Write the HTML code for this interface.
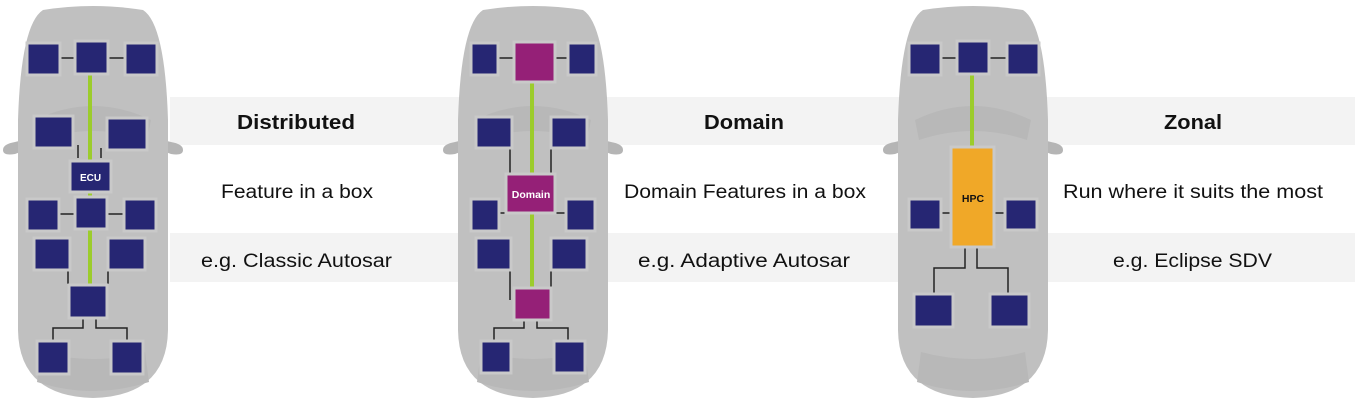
<!DOCTYPE html>
<html><head><meta charset="utf-8"><style>
html,body{margin:0;padding:0;background:#fff;}
svg{display:block;}
text{font-family:"Liberation Sans",sans-serif;}
</style></head><body>
<svg width="1363" height="403" viewBox="0 0 1363 403" xmlns="http://www.w3.org/2000/svg">
<defs>
<g id="car">
  <path d="M-90,150 q0,-6 12,-8 l16,-4 l0,10 l-16,6 q-12,2 -12,-4z" fill="#b5b5b5"/>
  <path d="M90,150 q0,-6 -12,-8 l-16,-4 l0,10 l16,6 q12,2 12,-4z" fill="#b5b5b5"/>
  <path d="M-50,10 Q0,2 50,10 Q72,24 75,120 L75,330 Q74,396 0,398 Q-74,396 -75,330 L-75,120 Q-72,24 -50,10Z" fill="#c0c0c0"/>
  <path d="M-58,120 q58,-28 116,0 l-4,20 q-54,-18 -108,0z" fill="#b8b8b8"/>
  <path d="M-52,352 q52,14 104,0 l4,30 q-56,18 -112,0z" fill="#b8b8b8"/>
</g>
</defs>
<rect x="170" y="97" width="1185" height="48" fill="#f3f3f3"/>
<rect x="170" y="233" width="1185" height="49" fill="#f3f3f3"/>

<!-- Car 1 -->
<use href="#car" x="93" y="0"/>
<g fill="none" stroke="#222" stroke-width="1.5">
  <path d="M60,58H74M108,58H124"/>
  <path d="M78,145V158 M101,148V158"/>
  <path d="M60,214H74M108,214H123"/>
  <path d="M68,270V284M108,270V284"/>
  <path d="M83,318V328H53V340M96,318V328H127V340"/>
</g>
<path d="M90,75V285" stroke="#9ccc2c" stroke-width="4"/>
<g fill="#262673" stroke="#c9c9c9" stroke-width="3">
  <rect x="27" y="43" width="33" height="32"/><rect x="75" y="41" width="33" height="33"/><rect x="125" y="43" width="32" height="32"/>
  <rect x="34" y="116" width="39" height="32"/><rect x="107" y="118" width="40" height="32"/>
  <rect x="70" y="161" width="41" height="31"/>
  <rect x="27" y="199" width="32" height="32"/><rect x="75" y="197" width="32" height="32"/><rect x="124" y="199" width="32" height="32"/>
  <rect x="34" y="238" width="36" height="32"/><rect x="108" y="238" width="37" height="32"/>
  <rect x="69" y="285" width="38" height="33"/>
  <rect x="37" y="341" width="32" height="33"/><rect x="111" y="341" width="32" height="33"/>
</g>
<text x="90.5" y="181" font-size="10" font-weight="bold" fill="#fff" text-anchor="middle">ECU</text>

<!-- Car 2 -->
<use href="#car" x="533" y="0"/>
<g fill="none" stroke="#222" stroke-width="1.5">
  <path d="M498,58H513M556,58H567"/>
  <path d="M510,148V173M551,148V173"/>
  <path d="M500,213H505M556,213H565"/>
  <path d="M510,270V300M551,270V287"/>
  <path d="M524,320V328H494V340M537,320V328H568V340"/>
</g>
<path d="M532,82V290" stroke="#9ccc2c" stroke-width="4"/>
<g fill="#262673" stroke="#c9c9c9" stroke-width="3">
  <rect x="471" y="43" width="27" height="32"/><rect x="568" y="43" width="28" height="32"/>
  <rect x="476" y="117" width="36" height="31"/><rect x="551" y="117" width="36" height="31"/>
  <rect x="471" y="199" width="28" height="32"/><rect x="566" y="199" width="29" height="32"/>
  <rect x="476" y="238" width="35" height="32"/><rect x="551" y="238" width="36" height="32"/>
  <rect x="481" y="341" width="30" height="32"/><rect x="554" y="341" width="31" height="32"/>
</g>
<g fill="#952077" stroke="#c9c9c9" stroke-width="3">
  <rect x="514" y="42" width="41" height="40"/>
  <rect x="506" y="174" width="49" height="39"/>
  <rect x="514" y="288" width="37" height="32"/>
</g>
<text x="531" y="198" font-size="10.5" font-weight="bold" fill="#fff" text-anchor="middle">Domain</text>

<!-- Car 3 -->
<use href="#car" x="973" y="0"/>
<g fill="none" stroke="#222" stroke-width="1.5">
  <path d="M942,58H956M990,58H1006"/>
  <path d="M942,213H950M995,213H1004"/>
  <path d="M965,248V268H934V293M977,248V268H1008V293"/>
</g>
<path d="M972,75V146" stroke="#9ccc2c" stroke-width="4"/>
<g fill="#262673" stroke="#c9c9c9" stroke-width="3">
  <rect x="909" y="43" width="32" height="32"/><rect x="957" y="41" width="32" height="33"/><rect x="1007" y="43" width="32" height="32"/>
  <rect x="909" y="199" width="32" height="31"/><rect x="1005" y="199" width="32" height="31"/>
  <rect x="914" y="294" width="39" height="33"/><rect x="990" y="294" width="39" height="33"/>
</g>
<rect x="951" y="147" width="43" height="100" fill="#f0a828" stroke="#c9c9c9" stroke-width="3"/>
<text x="973" y="202" font-size="10.5" font-weight="bold" fill="#111" text-anchor="middle">HPC</text>

<!-- Labels -->
<g fill="#111" font-size="19">
  <text x="237" y="129" font-weight="bold" font-size="20" textLength="118" lengthAdjust="spacingAndGlyphs">Distributed</text>
  <text x="221" y="198" textLength="152" lengthAdjust="spacingAndGlyphs">Feature in a box</text>
  <text x="201" y="267" textLength="191" lengthAdjust="spacingAndGlyphs">e.g.  Classic Autosar</text>
  <text x="704" y="129" font-weight="bold" font-size="20" textLength="80" lengthAdjust="spacingAndGlyphs">Domain</text>
  <text x="624" y="198" textLength="242" lengthAdjust="spacingAndGlyphs">Domain Features in a box</text>
  <text x="638" y="267" textLength="212" lengthAdjust="spacingAndGlyphs">e.g.  Adaptive Autosar</text>
  <text x="1164" y="129" font-weight="bold" font-size="20" textLength="58" lengthAdjust="spacingAndGlyphs">Zonal</text>
  <text x="1063" y="198" textLength="260" lengthAdjust="spacingAndGlyphs">Run where it suits the most</text>
  <text x="1113" y="267" textLength="159" lengthAdjust="spacingAndGlyphs">e.g.  Eclipse SDV</text>
</g>
</svg>
</body></html>
